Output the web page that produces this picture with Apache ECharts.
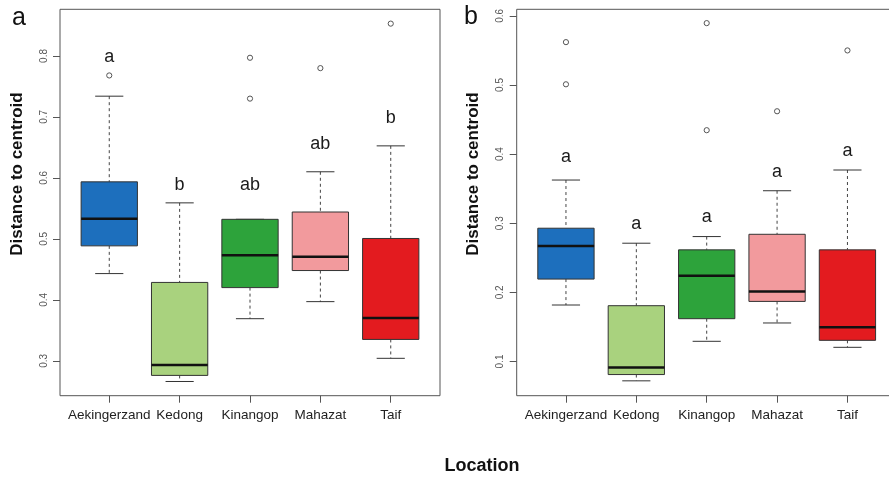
<!DOCTYPE html>
<html>
<head>
<meta charset="utf-8">
<script src="https://cdn.jsdelivr.net/npm/echarts@6/dist/echarts.min.js"></script>
<style>
html,body{margin:0;padding:0;background:#fff;}
#chart{width:889px;height:481px;}
</style>
</head>
<body>
<div id="chart"></div>
<script>
// ---------- data ----------
const categories = ['Aekingerzand', 'Kedong', 'Kinangop', 'Mahazat', 'Taif'];

// Panel a: lower whisker, Q1, median, Q3, upper whisker
const aLow  = [0.443, 0.266, 0.369, 0.397, 0.304];
const aQ1   = [0.4885, 0.276, 0.420, 0.448, 0.335];
const aMed  = [0.533, 0.293, 0.473, 0.4705, 0.370];
const aQ3   = [0.5935, 0.4285, 0.532, 0.544, 0.5006];
const aHigh = [0.734, 0.559, 0.532, 0.610, 0.6525];
const aOutCat = ['Aekingerzand', 'Kinangop', 'Kinangop', 'Mahazat', 'Taif'];
const aOutVal = [0.768, 0.797, 0.730, 0.780, 0.853];
const aLetters = ['a', 'b', 'ab', 'ab', 'b'];
const aLetterY = [0.7988, 0.5875, 0.5875, 0.6548, 0.698];
const aTicks = [0.3, 0.4, 0.5, 0.6, 0.7, 0.8];

// Panel b
const bLow  = [0.1817, 0.072, 0.1292, 0.1557, 0.1205];
const bQ1   = [0.2192, 0.0811, 0.1619, 0.1869, 0.1306];
const bMed  = [0.2672, 0.0912, 0.224, 0.2013, 0.1494];
const bQ3   = [0.2928, 0.1807, 0.2615, 0.284, 0.2615];
const bHigh = [0.3625, 0.2711, 0.2807, 0.347, 0.377];
const bOutCat = ['Aekingerzand', 'Aekingerzand', 'Kinangop', 'Kinangop', 'Mahazat', 'Taif'];
const bOutVal = [0.562, 0.501, 0.5895, 0.4346, 0.462, 0.550];
const bLetters = ['a', 'a', 'a', 'a', 'a'];
const bLetterY = [0.3962, 0.2988, 0.3094, 0.3736, 0.4049];
const bTicks = [0.1, 0.2, 0.3, 0.4, 0.5, 0.6];

// ---------- styles ----------
const boxColors = ['#1d6fbd', '#a9d27e', '#2da33b', '#f29a9d', '#e31b1f'];
const FONT = '"Liberation Sans", Arial, Helvetica, sans-serif';

function boxData(low, q1, med, q3, high) {
  return low.map((v, i) => [i + 1, low[i], q1[i], med[i], q3[i], high[i]]);
}
function outData(cats, vals) {
  return cats.map((c, i) => [categories.indexOf(c) + 1, vals[i]]);
}
function letterData(letters, ys) {
  return letters.map((l, i) => [i + 1, ys[i], l]);
}

function renderBox(params, api) {
  const x = api.value(0);
  const lo = api.coord([x, api.value(1)]);
  const q1 = api.coord([x, api.value(2)]);
  const md = api.coord([x, api.value(3)]);
  const q3 = api.coord([x, api.value(4)]);
  const hi = api.coord([x, api.value(5)]);
  const w = api.size([0.8, 0])[0];
  const hw = w / 2, sw = w / 4;
  const cx = lo[0];
  const dash = {stroke: '#444', lineWidth: 1, lineDash: [3, 3]};
  const solid = {stroke: '#333', lineWidth: 1};
  return {
    type: 'group',
    children: [
      {type: 'line', shape: {x1: cx, y1: hi[1], x2: cx, y2: q3[1]}, style: dash},
      {type: 'line', shape: {x1: cx, y1: q1[1], x2: cx, y2: lo[1]}, style: dash},
      {type: 'line', shape: {x1: cx - sw, y1: hi[1], x2: cx + sw, y2: hi[1]}, style: solid},
      {type: 'line', shape: {x1: cx - sw, y1: lo[1], x2: cx + sw, y2: lo[1]}, style: solid},
      {type: 'rect', shape: {x: cx - hw, y: q3[1], width: w, height: q1[1] - q3[1]},
        style: {fill: boxColors[params.dataIndex], stroke: '#333', lineWidth: 1}},
      {type: 'line', shape: {x1: cx - hw, y1: md[1], x2: cx + hw, y2: md[1]},
        style: {stroke: '#111', lineWidth: 2.5}}
    ]
  };
}
function renderOutlier(params, api) {
  const p = api.coord([api.value(0), api.value(1)]);
  return {
    type: 'circle', shape: {cx: p[0], cy: p[1], r: 2.6},
    style: {fill: '#fff', stroke: '#555', lineWidth: 1}
  };
}
function renderLetter(params, api) {
  const p = api.coord([api.value(0), api.value(1)]);
  return {
    type: 'text',
    style: {text: api.value(2), x: p[0], y: p[1], align: 'center', verticalAlign: 'middle',
      fontSize: 18, fontFamily: FONT, fill: '#1a1a1a'}
  };
}

function xAxisFor(gi) {
  return {
    type: 'value', gridIndex: gi, min: 0.3, max: 5.7,
    axisLine: {show: false}, splitLine: {show: false},
    axisTick: {show: true, customValues: [1, 2, 3, 4, 5], length: 7, lineStyle: {color: '#555'}},
    axisLabel: {customValues: [1, 2, 3, 4, 5], formatter: v => categories[Math.round(v) - 1],
      fontSize: 13.5, fontFamily: FONT, color: '#222', margin: 13}
  };
}
function yAxisFor(gi, min, max, ticks) {
  return {
    type: 'value', gridIndex: gi, min: min, max: max,
    axisLine: {show: false}, splitLine: {show: false},
    axisTick: {show: true, customValues: ticks, length: 7, lineStyle: {color: '#555'}},
    axisLabel: {customValues: ticks, rotate: 90, formatter: v => v.toFixed(1),
      fontSize: 10, fontFamily: FONT, color: '#555', margin: 11}
  };
}

const chart = echarts.init(document.getElementById('chart'), null, {renderer: 'canvas'});
const option = {
  backgroundColor: '#fff',
  animation: false,
  grid: [
    {left: 60, top: 9.3, width: 380, height: 386.4, show: true, borderColor: '#555', borderWidth: 1,
      backgroundColor: 'transparent', containLabel: false, outerBoundsMode: 'none'},
    {left: 516.7, top: 9.3, width: 380, height: 386.4, show: true, borderColor: '#555', borderWidth: 1,
      backgroundColor: 'transparent', containLabel: false, outerBoundsMode: 'none'}
  ],
  xAxis: [xAxisFor(0), xAxisFor(1)],
  yAxis: [yAxisFor(0, 0.2427, 0.8765, aTicks), yAxisFor(1, 0.0505, 0.6095, bTicks)],
  series: [
    {type: 'custom', xAxisIndex: 0, yAxisIndex: 0, renderItem: renderBox,
      data: boxData(aLow, aQ1, aMed, aQ3, aHigh), encode: {x: 0, y: [1, 2, 3, 4, 5]}},
    {type: 'custom', xAxisIndex: 0, yAxisIndex: 0, renderItem: renderOutlier,
      data: outData(aOutCat, aOutVal), encode: {x: 0, y: 1}},
    {type: 'custom', xAxisIndex: 0, yAxisIndex: 0, renderItem: renderLetter,
      data: letterData(aLetters, aLetterY), encode: {x: 0, y: 1}},
    {type: 'custom', xAxisIndex: 1, yAxisIndex: 1, renderItem: renderBox,
      data: boxData(bLow, bQ1, bMed, bQ3, bHigh), encode: {x: 0, y: [1, 2, 3, 4, 5]}},
    {type: 'custom', xAxisIndex: 1, yAxisIndex: 1, renderItem: renderOutlier,
      data: outData(bOutCat, bOutVal), encode: {x: 0, y: 1}},
    {type: 'custom', xAxisIndex: 1, yAxisIndex: 1, renderItem: renderLetter,
      data: letterData(bLetters, bLetterY), encode: {x: 0, y: 1}}
  ],
  graphic: [
    {type: 'text', left: 12, top: 6, style: {text: 'a', fontSize: 25, fontFamily: FONT, fill: '#111'}},
    {type: 'text', left: 464, top: 5, style: {text: 'b', fontSize: 25, fontFamily: FONT, fill: '#111'}},
    {type: 'text', x: 17, y: 174, rotation: Math.PI / 2,
      style: {text: 'Distance to centroid', fontSize: 17, fontWeight: 'bold', fontFamily: FONT, fill: '#111', align: 'center', verticalAlign: 'middle'}},
    {type: 'text', x: 473, y: 174, rotation: Math.PI / 2,
      style: {text: 'Distance to centroid', fontSize: 17, fontWeight: 'bold', fontFamily: FONT, fill: '#111', align: 'center', verticalAlign: 'middle'}},
    {type: 'text', x: 482, y: 466,
      style: {text: 'Location', fontSize: 18, fontWeight: 'bold', fontFamily: FONT, fill: '#111', align: 'center', verticalAlign: 'middle'}}
  ]
};
chart.setOption(option);
</script>
</body>
</html>
